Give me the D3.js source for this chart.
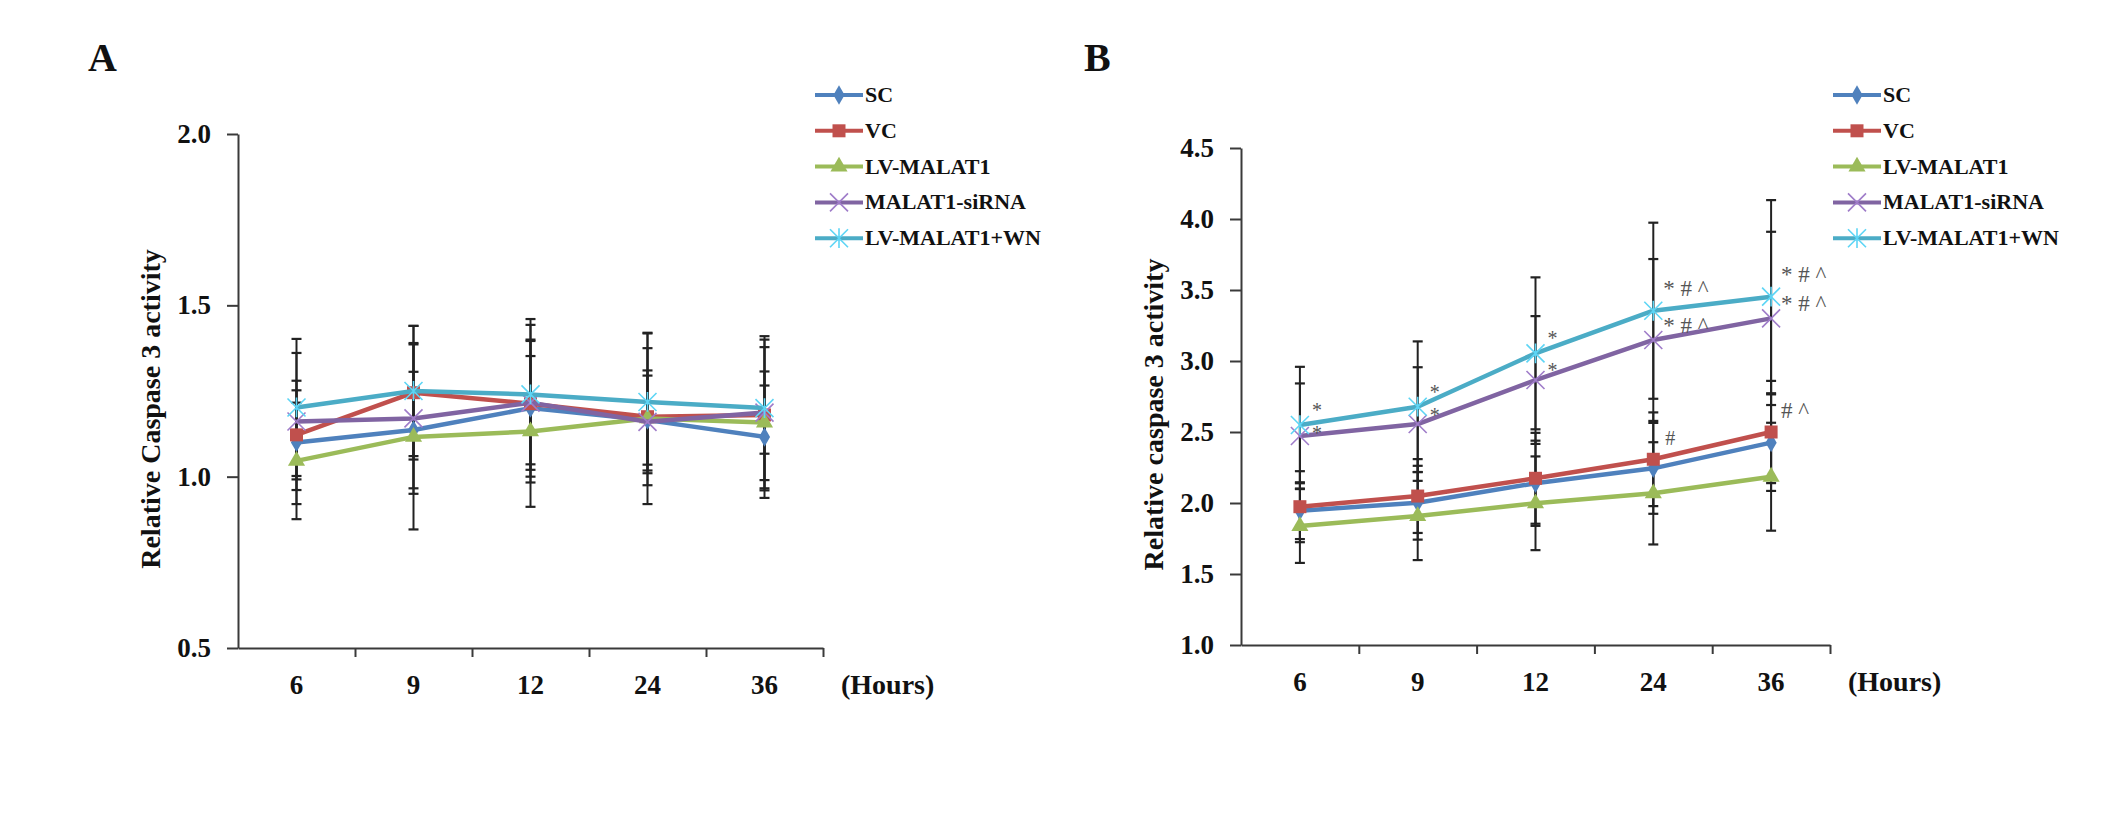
<!DOCTYPE html>
<html>
<head>
<meta charset="utf-8">
<script src="https://cdn.jsdelivr.net/npm/d3@7/dist/d3.min.js"></script>
<style>
  html, body { margin: 0; padding: 0; background: #fff; }
  svg { display: block; }
</style>
</head>
<body>
<svg id="chart"></svg>
<script>
// caspase 3 activity, two panels
const hours = ['6', '9', '12', '24', '36'];
const seriesNames = ['SC', 'VC', 'LV-MALAT1', 'MALAT1-siRNA', 'LV-MALAT1+WN'];
const seriesColors = ['#4f81bd', '#c0504d', '#9bbb59', '#8064a2', '#4bacc6'];
const seriesShapes = ['diamond', 'square', 'triangle', 'cross', 'star'];

// panel A means / errors
const aSC = [1.10, 1.136, 1.20, 1.165, 1.116];
const aVC = [1.122, 1.245, 1.213, 1.175, 1.18];
const aLV = [1.046, 1.116, 1.132, 1.17, 1.158];
const aSi = [1.161, 1.17, 1.216, 1.16, 1.187];
const aWN = [1.202, 1.25, 1.24, 1.218, 1.20];
const aSCerr = [0.18, 0.17, 0.20, 0.13, 0.15];
const aVCerr = [0.13, 0.195, 0.23, 0.20, 0.22];
const aLVerr = [0.17, 0.27, 0.22, 0.25, 0.22];
const aSiErr = [0.20, 0.22, 0.18, 0.15, 0.12];
const aWNerr = [0.20, 0.19, 0.22, 0.20, 0.21];
const aTicks = [0.5, 1.0, 1.5, 2.0];

// panel B means / errors
const bSC = [1.946, 2.002, 2.139, 2.244, 2.425];
const bVC = [1.974, 2.049, 2.174, 2.308, 2.50];
const bLV = [1.838, 1.908, 1.998, 2.068, 2.185];
const bSi = [2.472, 2.556, 2.866, 3.148, 3.30];
const bWN = [2.549, 2.678, 3.054, 3.354, 3.453];
const bSCerr = [0.20, 0.26, 0.30, 0.32, 0.34];
const bVCerr = [0.25, 0.26, 0.32, 0.33, 0.36];
const bLVerr = [0.26, 0.31, 0.33, 0.36, 0.38];
const bSiErr = [0.37, 0.40, 0.45, 0.57, 0.61];
const bWNerr = [0.41, 0.46, 0.535, 0.62, 0.68];
const bTicks = [1.0, 1.5, 2.0, 2.5, 3.0, 3.5, 4.0, 4.5];
// significance marks in panel B (per hour)
const bSiMarks = ['*', '*', '*', '* # ^', '* # ^'];
const bWNmarks = ['*', '*', '*', '* # ^', '* # ^'];
const bVCmarks = ['', '', '', '#', '# ^'];

const W = 2126, H = 823;
const FONT = '"Liberation Serif", "Times New Roman", serif';
const svg = d3.select('#chart').attr('width', W).attr('height', H);
svg.append('rect').attr('width', W).attr('height', H).attr('fill', '#fff');

function markerPath(shape, s) {
    if (shape === 'diamond') return d3.symbol(d3.symbolDiamond, s * s * 0.9)();
    if (shape === 'square') return d3.symbol(d3.symbolSquare, s * s)();
    if (shape === 'triangle') return d3.symbol(d3.symbolTriangle, s * s * 0.75)();
    const r = s * 0.6;
    let p = `M${-r},${-r}L${r},${r}M${-r},${r}L${r},${-r}`;
    if (shape === 'star') p += `M0,${-r * 1.1}L0,${r * 1.1}`;
    return p;
}

function drawMarker(g, shape, color, px, py) {
    const open = shape === 'cross' || shape === 'star';
    const sz = shape === 'square' ? 13 : shape === 'diamond' ? 11 : shape === 'triangle' ? 13 : 15;
    g.append('path').attr('d', markerPath(shape, sz))
        .attr('transform', `translate(${px},${py})`)
        .attr('fill', open ? 'none' : color)
        .attr('stroke', open ? d3.color(color).brighter(0.6) : 'none')
        .attr('stroke-width', open ? 1.6 : 0);
}

function panel(cfg) {
    const g = svg.append('g');
    const x = d3.scaleBand().domain(hours).range([cfg.x0, cfg.x1]);
    const y = d3.scaleLinear().domain(cfg.yDomain).range([cfg.yBottom, cfg.yTop]);
    const cx = h => x(h) + x.bandwidth() / 2;

    // y axis
    const ya = g.append('g').attr('transform', `translate(${cfg.x0},0)`)
        .call(d3.axisLeft(y).tickValues(cfg.yTicks).tickFormat(d3.format('.1f')).tickSize(11).tickSizeOuter(0).tickPadding(16));
    // x axis: boundary ticks + category labels
    const xb = d3.scaleLinear().domain([0, hours.length]).range([cfg.x0, cfg.x1]);
    const xa = g.append('g').attr('transform', `translate(0,${cfg.yBottom})`)
        .call(d3.axisBottom(xb).ticks(hours.length).tickFormat('').tickSize(9).tickSizeOuter(0));
    xa.selectAll('.tick').filter(d => d === 0).remove();
    const xl = g.append('g').attr('transform', `translate(0,${cfg.yBottom})`)
        .call(d3.axisBottom(x).tickSize(0).tickPadding(27));
    xl.select('.domain').remove();
    [ya, xa, xl].forEach(a => {
        a.selectAll('.domain, .tick line').attr('stroke', '#3a3a3a').attr('stroke-width', 2);
        a.selectAll('text').attr('font-family', FONT).attr('font-size', 27).attr('font-weight', 'bold').attr('fill', '#111');
    });
    g.append('text').attr('x', cfg.x1 + 18).attr('y', cfg.yBottom + 46)
        .attr('font-family', FONT).attr('font-size', 28).attr('font-weight', 'bold').attr('fill', '#111').text('(Hours)');

    // y label
    const midY = (cfg.yBottom + cfg.yTop) / 2 + 18;
    g.append('text').attr('transform', `translate(${cfg.x0 - 78},${midY}) rotate(-90)`)
        .attr('text-anchor', 'middle').attr('font-family', FONT).attr('font-size', 28).attr('font-weight', 'bold')
        .attr('fill', '#111').text(cfg.yLabel);

    // panel letter
    g.append('text').attr('x', cfg.letterX).attr('y', 71).attr('font-family', FONT).attr('font-size', 40)
        .attr('font-weight', 'bold').attr('fill', '#111').text(cfg.letter);

    // error bars
    cfg.series.forEach((s) => {
        s.vals.forEach((v, i) => {
            const px = cx(hours[i]), e = s.err[i];
            const t = y(v + e), b = y(v - e);
            g.append('line').attr('x1', px).attr('x2', px).attr('y1', t).attr('y2', b).attr('stroke', '#222').attr('stroke-width', 2);
            [t, b].forEach(yy => g.append('line').attr('x1', px - 5).attr('x2', px + 5).attr('y1', yy).attr('y2', yy)
                .attr('stroke', '#222').attr('stroke-width', 2.2));
        });
    });

    // lines + markers
    const line = d3.line().x((d, i) => cx(hours[i])).y(d => y(d));
    cfg.series.forEach((s, k) => {
        g.append('path').datum(s.vals).attr('d', line).attr('fill', 'none')
            .attr('stroke', seriesColors[k]).attr('stroke-width', 4.5).attr('stroke-linejoin', 'round');
        s.vals.forEach((v, i) => drawMarker(g, seriesShapes[k], seriesColors[k], cx(hours[i]), y(v)));
    });

    // significance marks (top-down; a mark is nudged down if it would collide with the one above)
    const lastBottom = {};
    (cfg.marks || []).forEach(m => {
        m.labels.forEach((t, i) => {
            if (!t) return;
            const multi = t.length > 1;
            let by = y(m.vals[i]) + (multi ? m.dyMulti : m.dySingle);
            const txt = g.append('text').attr('x', cx(hours[i]) + (multi ? 10 : 12)).attr('y', by)
                .attr('font-family', FONT).attr('font-size', multi ? 23 : 20).attr('fill', '#555')
                .attr('xml:space', 'preserve').text(t);
            const bb = txt.node().getBBox();
            if (lastBottom[i] !== undefined && bb.y < lastBottom[i] + 1) {
                by += lastBottom[i] + 1 - bb.y;
                txt.attr('y', by);
            }
            const nb = txt.node().getBBox();
            lastBottom[i] = nb.y + nb.height;
        });
    });

    // legend
    const lg = g.append('g').attr('transform', `translate(${cfg.legendX},${cfg.legendY})`);
    seriesNames.forEach((n, k) => {
        const yy = k * 35.8;
        lg.append('line').attr('x1', 0).attr('x2', 48).attr('y1', yy).attr('y2', yy)
            .attr('stroke', seriesColors[k]).attr('stroke-width', 4);
        drawMarker(lg, seriesShapes[k], seriesColors[k], 24, yy);
        lg.append('text').attr('x', 50).attr('y', yy + 7).attr('font-family', FONT).attr('font-size', 22)
            .attr('font-weight', 'bold').attr('fill', '#111').text(n);
    });
}

panel({
    letter: 'A', letterX: 88,
    x0: 238, x1: 823, yBottom: 648, yTop: 134, yDomain: [0.5, 2.0], yTicks: aTicks,
    yLabel: 'Relative Caspase 3 activity',
    legendX: 815, legendY: 95,
    series: [
        { vals: aSC, err: aSCerr }, { vals: aVC, err: aVCerr }, { vals: aLV, err: aLVerr },
        { vals: aSi, err: aSiErr }, { vals: aWN, err: aWNerr }
    ]
});

panel({
    letter: 'B', letterX: 1084,
    x0: 1241, x1: 1830, yBottom: 645, yTop: 148, yDomain: [1.0, 4.5], yTicks: bTicks,
    yLabel: 'Relative caspase 3 activity',
    legendX: 1833, legendY: 95,
    series: [
        { vals: bSC, err: bSCerr }, { vals: bVC, err: bVCerr }, { vals: bLV, err: bLVerr },
        { vals: bSi, err: bSiErr }, { vals: bWN, err: bWNerr }
    ],
    marks: [
        { vals: bWN, labels: bWNmarks, dySingle: -8, dyMulti: -15 },
        { vals: bSi, labels: bSiMarks, dySingle: -3, dyMulti: -7 },
        { vals: bVC, labels: bVCmarks, dySingle: -14, dyMulti: -14 }
    ]
});
</script>
</body>
</html>
